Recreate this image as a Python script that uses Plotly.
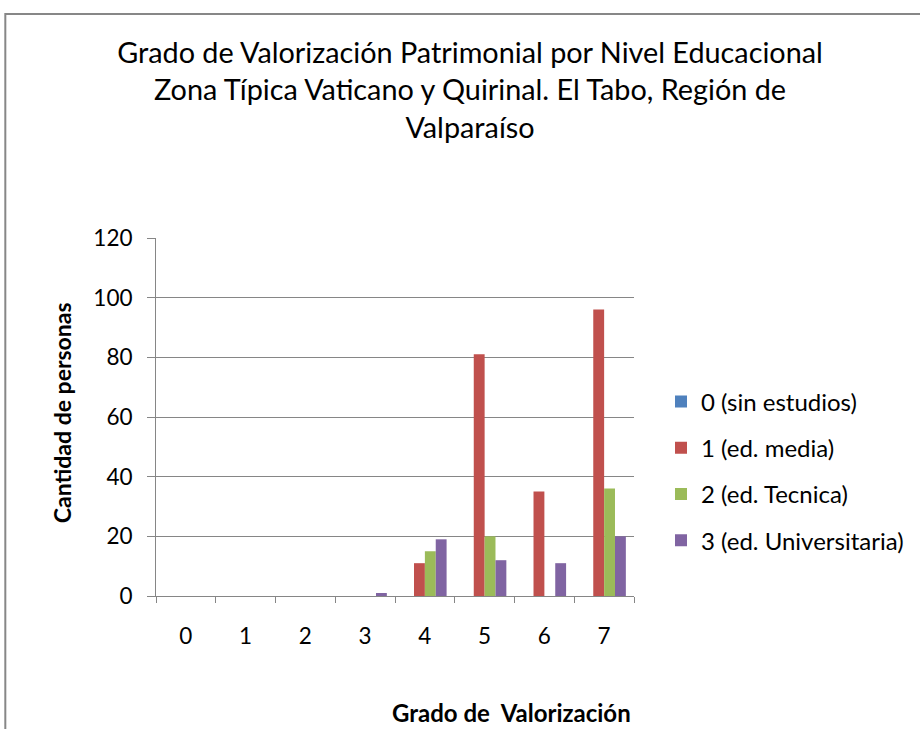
import plotly.graph_objects as go

categories = ['0', '1', '2', '3', '4', '5', '6', '7']
sin_estudios = [0, 0, 0, 0, 0, 0, 0, 0]
ed_media = [0, 0, 0, 0, 11, 81, 35, 96]
ed_tecnica = [0, 0, 0, 0, 15, 20, 0, 36]
ed_universitaria = [0, 0, 0, 1, 19, 12, 11, 20]

series_names = ['0 (sin estudios)', '1 (ed. media)', '2 (ed. Tecnica)', '3 (ed. Universitaria)']
series_values = [sin_estudios, ed_media, ed_tecnica, ed_universitaria]
colors = ['#4F81BD', '#C0504D', '#9BBB59', '#8064A2']

FONT = 'Lato'
GRID = '#868686'

fig = go.Figure()
for i, (name, vals, col) in enumerate(zip(series_names, series_values, colors)):
    fig.add_trace(go.Bar(x=categories, y=vals, name=name, marker=dict(color=col, line=dict(width=0)),
                         legendgroup='g%d' % i))

W, H = 920, 729
L, R, T, B = 156, 635, 238, 596

def px(xp):
    return (xp - L) / (R - L)

def py(yp):
    return (B - yp) / (B - T)

fig.update_layout(
    width=W, height=H,
    margin=dict(l=L, r=W - R, t=T, b=H - B),
    paper_bgcolor='white', plot_bgcolor='white',
    font=dict(family=FONT, color='#000000', size=22),
    barmode='group', bargap=1.5 / 5.5, bargroupgap=0,
    showlegend=True,
    legend=dict(x=px(661), y=py(471), xanchor='left', yanchor='middle',
                font=dict(size=24, family=FONT), tracegroupgap=12,
                traceorder='grouped', itemwidth=30, bgcolor='rgba(0,0,0,0)'),
    title=dict(text='Grado de Valorización Patrimonial por Nivel Educacional<br>Zona Típica Vaticano y Quirinal. El Tabo, Región de<br>Valparaíso',
               x=470 / W, xanchor='center', xref='container', y=1 - 63 / H, yanchor='top', yref='container',
               font=dict(size=28.8, family=FONT, color='#000000')),
    xaxis=dict(type='category', showgrid=False, showline=True, linecolor=GRID, linewidth=1,
               ticks='outside', ticklen=6, tickcolor=GRID, tickson='boundaries',
               tickfont=dict(size=22.5, family=FONT), ticklabelstandoff=20, zeroline=False),
    yaxis=dict(range=[0, 120], dtick=20, showgrid=True, gridcolor=GRID, gridwidth=1,
               showline=True, linecolor=GRID, linewidth=1, ticks='outside', ticklen=8,
               tickcolor=GRID, tickfont=dict(size=22.5, family=FONT), ticklabelstandoff=10,
               zeroline=False),
)

# chart border
fig.add_shape(type='rect', xref='paper', yref='paper',
              x0=px(5), x1=px(960), y0=py(760), y1=py(14),
              line=dict(color='#878787', width=2), fillcolor='rgba(0,0,0,0)', layer='below')

# axis titles
fig.add_annotation(text='<b>Cantidad de personas</b>', xref='paper', yref='paper',
                   x=px(62), y=py(413), xanchor='center', yanchor='middle',
                   textangle=-90, showarrow=False, font=dict(size=23, family=FONT))
fig.add_annotation(text='<b>Grado de\u00a0 Valorización</b>', xref='paper', yref='paper',
                   x=px(512), y=py(712), xanchor='center', yanchor='middle',
                   showarrow=False, font=dict(size=24, family=FONT))

fig.write_html('out.html', config={'displayModeBar': False},
               post_script="document.body.style.margin='0px';")
